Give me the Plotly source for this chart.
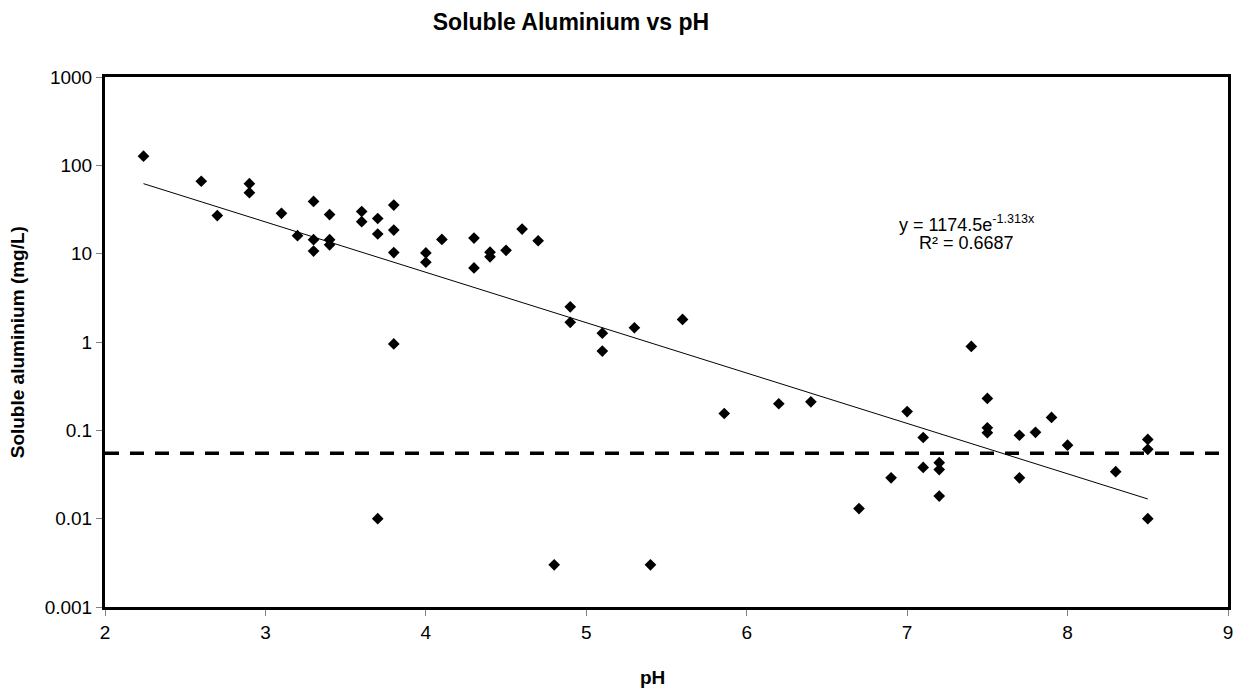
import numpy as np
import plotly.graph_objects as go

# --- data ---
ph = [2.24, 2.6, 2.7, 2.9, 2.9, 3.1, 3.2, 3.3, 3.3, 3.3,
      3.4, 3.4, 3.4, 3.6, 3.6, 3.7, 3.7, 3.7, 3.8, 3.8,
      3.8, 3.8, 4.0, 4.0, 4.1, 4.3, 4.3, 4.4, 4.4, 4.5,
      4.6, 4.7, 4.8, 4.9, 4.9, 5.1, 5.1, 5.3, 5.4, 5.6,
      5.86, 6.2, 6.4, 6.7, 6.9, 7.0, 7.1, 7.1, 7.2, 7.2,
      7.2, 7.4, 7.5, 7.5, 7.5, 7.7, 7.7, 7.8, 7.9, 8.0,
      8.3, 8.5, 8.5, 8.5]
aluminium = [127, 66, 27, 62, 49, 28.6, 16, 39, 14.4, 10.7,
             27.7, 14.4, 12.6, 30, 23, 25, 16.7, 0.01, 35.5, 18.5,
             10.3, 0.95, 10.2, 8.0, 14.5, 15, 6.9, 10.4, 9.2, 10.9,
             19, 14, 0.003, 2.5, 1.67, 1.26, 0.79, 1.45, 0.003, 1.8,
             0.155, 0.2, 0.21, 0.013, 0.029, 0.163, 0.083, 0.038, 0.043, 0.036,
             0.018, 0.89, 0.23, 0.107, 0.094, 0.088, 0.029, 0.095, 0.14, 0.068,
             0.034, 0.079, 0.061, 0.01]

fit_a = 1174.5
fit_b = -1.313
r_squared = 0.6687
guideline = 0.055

y_tickvals = [0.001, 0.01, 0.1, 1, 10, 100, 1000]
y_ticktext = ["0.001", "0.01", "0.1", "1", "10", "100", "1000"]
x_tickvals = [2, 3, 4, 5, 6, 7, 8, 9]

FONT = "Arial, 'Liberation Sans', sans-serif"

trend_x = np.linspace(min(ph), max(ph), 100)
trend_y = fit_a * np.exp(fit_b * trend_x)

fig = go.Figure()
fig.add_trace(go.Scatter(
    x=trend_x, y=trend_y, mode="lines",
    line=dict(color="black", width=1), hoverinfo="skip", showlegend=False))
fig.add_trace(go.Scatter(
    x=[2, 9], y=[guideline, guideline], mode="lines",
    line=dict(color="black", width=3.5, dash="14px,11px"),
    hoverinfo="skip", showlegend=False))
fig.add_trace(go.Scatter(
    x=ph, y=aluminium, mode="markers",
    marker=dict(symbol="diamond", size=9, color="black"),
    showlegend=False))

fig.update_layout(
    width=1245, height=693,
    margin=dict(l=105, r=13, t=77, b=86),
    paper_bgcolor="white", plot_bgcolor="white",
    font=dict(family=FONT, color="black", size=19),
    title=dict(text="<b>Soluble Aluminium vs pH</b>",
               font=dict(family=FONT, size=23, color="black"),
               x=571 / 1245, xanchor="center", xref="container",
               y=1 - 22 / 693, yanchor="middle", yref="container"),
    showlegend=False,
)
fig.update_xaxes(
    range=[2, 9], tickvals=x_tickvals,
    showgrid=False, zeroline=False,
    showline=True, linecolor="black", linewidth=3, mirror=True,
    ticks="outside", ticklen=6, tickcolor="#808080", tickwidth=1,
    tickfont=dict(family=FONT, size=19, color="black"),
)
fig.update_yaxes(
    type="log", range=[-3, 3],
    tickvals=y_tickvals, ticktext=y_ticktext,
    showgrid=False, zeroline=False,
    showline=True, linecolor="black", linewidth=3, mirror=True,
    ticks="outside", ticklen=6, tickcolor="#808080", tickwidth=1,
    tickfont=dict(family=FONT, size=19, color="black"),
)

fig.add_annotation(text="<b>pH</b>", xref="paper", yref="paper",
                   x=(654.5 - 105) / 1126.7, y=-(676.7 - 606.7) / 530,
                   xanchor="center", yanchor="middle", showarrow=False,
                   font=dict(family=FONT, size=19, color="black"))
fig.add_annotation(text="<b>Soluble aluminium (mg/L)</b>", xref="paper", yref="paper",
                   x=(17 - 105) / 1126.7, y=0.5, textangle=-90,
                   xanchor="center", yanchor="middle", showarrow=False,
                   font=dict(family=FONT, size=19, color="black"))
fig.add_annotation(text=f"y = {fit_a}e<sup>{fit_b}x</sup>", xref="x", yref="y",
                   x=7.37, y=1.347, xanchor="center", yanchor="middle",
                   showarrow=False, font=dict(family=FONT, size=18, color="black"))
fig.add_annotation(text=f"R² = {r_squared}", xref="x", yref="y",
                   x=7.37, y=1.121, xanchor="center", yanchor="middle",
                   showarrow=False, font=dict(family=FONT, size=18, color="black"))

fig.write_html("out.html", config={"displayModeBar": False},
               post_script="document.body.style.margin='0';")
